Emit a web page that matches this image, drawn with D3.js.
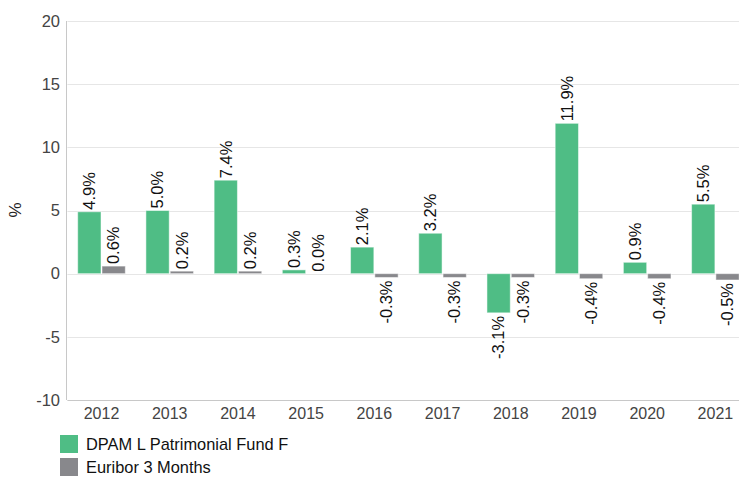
<!DOCTYPE html>
<html>
<head>
<meta charset="utf-8">
<script src="https://cdn.jsdelivr.net/npm/d3@7"></script>
<style>
  html, body { margin: 0; padding: 0; background: #fff; }
  svg { display: block; font-family: "Liberation Sans", Arial, sans-serif; }
</style>
</head>
<body>
<svg id="chart" width="739" height="478"></svg>
<script>
const years = ["2012","2013","2014","2015","2016","2017","2018","2019","2020","2021"];
const fundValues = [4.9, 5.0, 7.4, 0.3, 2.1, 3.2, -3.1, 11.9, 0.9, 5.5];
const euriborValues = [0.6, 0.2, 0.2, 0.0, -0.3, -0.3, -0.3, -0.4, -0.4, -0.5];
const seriesNames = ["DPAM L Patrimonial Fund F", "Euribor 3 Months"];
const seriesColors = ["#4fbd85", "#88888c"];
const yTicks = [-10, -5, 0, 5, 10, 15, 20];

(function () {
const svg = d3.select("#chart");
const pLeft = 67.4, pRight = 749.5, pTop = 21, pBottom = 400;

const x = d3.scaleBand().domain(years).range([pLeft, pRight]).paddingInner(0).paddingOuter(0);
const y = d3.scaleLinear().domain([-10, 20]).range([pBottom, pTop]);
const barW = 23.3, gap = 1;

// gridlines
svg.append("g").selectAll("line").data(yTicks.filter(t => t !== -10)).enter().append("line")
  .attr("x1", pLeft).attr("x2", 739)
  .attr("y1", d => Math.round(y(d)) + 0.5).attr("y2", d => Math.round(y(d)) + 0.5)
  .attr("stroke", "#e6e6e6").attr("stroke-width", 1);

// axes lines
svg.append("line").attr("x1", pLeft).attr("x2", 739).attr("y1", pBottom + 0.5).attr("y2", pBottom + 0.5)
  .attr("stroke", "#c8c8c8");
svg.append("line").attr("x1", Math.round(pLeft) - 0.5).attr("x2", Math.round(pLeft) - 0.5).attr("y1", pTop).attr("y2", pBottom)
  .attr("stroke", "#c8c8c8");

// y tick labels
svg.append("g").selectAll("text").data(yTicks).enter().append("text")
  .attr("x", 60).attr("y", d => y(d)).attr("dy", "0.35em")
  .attr("text-anchor", "end").attr("font-size", 16.5).attr("fill", "#444")
  .text(d => d);

// x tick labels
svg.append("g").selectAll("text").data(years).enter().append("text")
  .attr("x", d => x(d) + x.bandwidth() / 2).attr("y", 419)
  .attr("text-anchor", "middle").attr("font-size", 16).attr("fill", "#444")
  .text(d => d);

// y title
svg.append("text").attr("transform", "translate(15,210) rotate(-90)")
  .attr("text-anchor", "middle").attr("dy", "0.35em").attr("font-size", 17).attr("fill", "#222").text("%");

// bars
const series = [fundValues, euriborValues];
series.forEach((vals, si) => {
  const g = svg.append("g");
  const bx = (d, i) => x(years[i]) + x.bandwidth() / 2 + (si === 0 ? -barW - gap / 2 : gap / 2);
  g.selectAll("rect").data(vals).enter().append("rect")
    .attr("x", bx)
    .attr("width", barW)
    .attr("y", d => Math.min(y(d), y(0)))
    .attr("height", d => Math.abs(y(d) - y(0)))
    .attr("fill", seriesColors[si])
    .attr("stroke", "#ffffff").attr("stroke-opacity", 0.5).attr("stroke-width", 1);
  g.selectAll("text").data(vals).enter().append("text")
    .attr("transform", (d, i) => {
      const cx = bx(d, i) + barW / 2;
      const cy = d >= 0 ? y(d) - 2 : y(d) + 3;
      return `translate(${cx},${cy}) rotate(-90)`;
    })
    .attr("dy", "0.35em")
    .attr("text-anchor", d => d >= 0 ? "start" : "end")
    .attr("font-size", 16.5).attr("fill", "#111")
    .text(d => d.toFixed(1) + "%");
});

// legend
const lg = svg.append("g");
seriesNames.forEach((n, i) => {
  lg.append("rect").attr("x", 60).attr("y", 435 + i * 23).attr("width", 18).attr("height", 18).attr("fill", seriesColors[i]);
  lg.append("text").attr("x", 86).attr("y", 444 + i * 23).attr("dy", "0.35em")
    .attr("font-size", 16.4).attr("fill", "#111").text(n);
});
})();
</script>
</body>
</html>
